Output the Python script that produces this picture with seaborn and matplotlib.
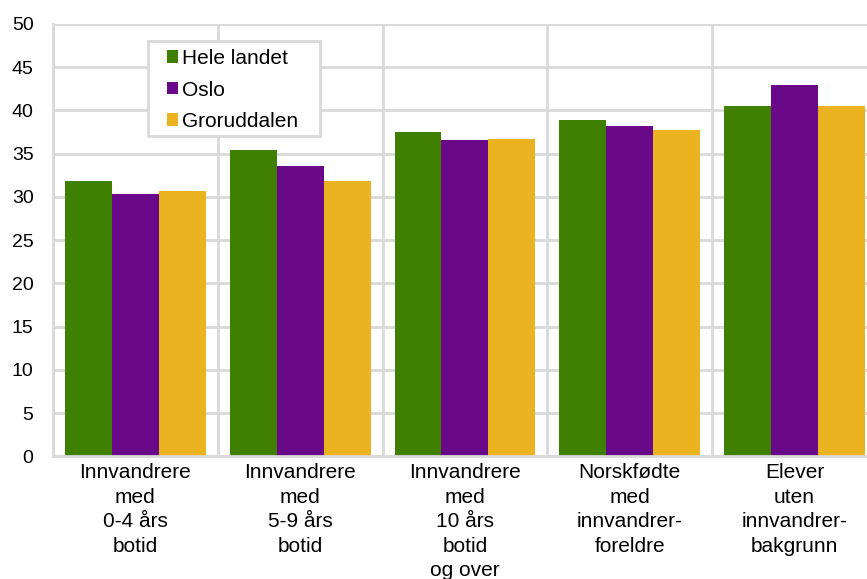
import pandas as pd
import numpy as np
import matplotlib
matplotlib.use("Agg")
import matplotlib.pyplot as plt
from matplotlib.patches import Rectangle
import seaborn as sns

# chart data
categories = ["Innvandrere\nmed\n0-4 års\nbotid",
              "Innvandrere\nmed\n5-9 års\nbotid",
              "Innvandrere\nmed\n10 års\nbotid\nog over",
              "Norskfødte\nmed\ninnvandrer-\nforeldre",
              "Elever\nuten\ninnvandrer-\nbakgrunn"]
series = ["Hele landet", "Oslo", "Groruddalen"]
hele_landet = [31.8, 35.4, 37.5, 38.9, 40.5]
oslo = [30.4, 33.6, 36.6, 38.2, 42.9]
groruddalen = [30.7, 31.9, 36.7, 37.8, 40.5]
colors = ["#3f8000", "#690888", "#ebb320"]

# long format for seaborn
df = pd.DataFrame({
    "kategori": categories * 3,
    "serie": [series[0]] * 5 + [series[1]] * 5 + [series[2]] * 5,
    "verdi": hele_landet + oslo + groruddalen,
})

sns.set_style("white")
plt.rcParams['font.family'] = ['Liberation Sans', 'DejaVu Sans']
plt.rcParams['text.color'] = 'black'
grid_col = "#d9d9d9"

fig = plt.figure(figsize=(8.67, 5.79), dpi=100)
ax = fig.add_axes([0.0611, 0.2116, 0.9504, 0.747])

sns.barplot(data=df, x="kategori", y="verdi", hue="serie", hue_order=series,
            palette=colors, width=0.855, gap=0, saturation=1, ax=ax,
            edgecolor="none", linewidth=0, legend=True)

ax.set_xlim(-0.5, 4.5)
ax.set_ylim(0, 50)
ax.set_yticks(np.arange(0, 51, 5))
ax.set_xticks(range(5))
ax.set_xticks(np.arange(-0.5, 5, 1), minor=True)
ax.set_xticklabels(categories, linespacing=1.36, fontsize=15)
ax.set_xlabel("")
ax.set_ylabel("")
ax.set_axisbelow(True)
ax.grid(axis="y", color=grid_col, linewidth=2)
ax.grid(axis="x", which="minor", color=grid_col, linewidth=2)
ax.grid(axis="x", which="major", visible=False)
ax.tick_params(axis="both", which="both", length=0, labelcolor="black")
ax.tick_params(axis="y", pad=14, labelsize=14)
ax.tick_params(axis="x", pad=5)

for side in ["top", "right"]:
    ax.spines[side].set_visible(False)
for side in ["left", "bottom"]:
    ax.spines[side].set_color(grid_col)
    ax.spines[side].set_linewidth(2)

# legend: own frame so the padding matches the original box
box = Rectangle((0.1153, 0.741), 0.2087, 0.2197, transform=ax.transAxes,
                facecolor="white", edgecolor=grid_col, linewidth=2, zorder=4)
ax.add_patch(box)
leg = ax.legend(loc="upper left", bbox_to_anchor=(0.138, 0.942), fontsize=15,
                frameon=False, handlelength=0.55, handleheight=0.55,
                handletextpad=0.2, labelspacing=0.6, borderpad=0,
                borderaxespad=0)
leg.set_zorder(5)

fig.savefig("out.png", dpi=100)
